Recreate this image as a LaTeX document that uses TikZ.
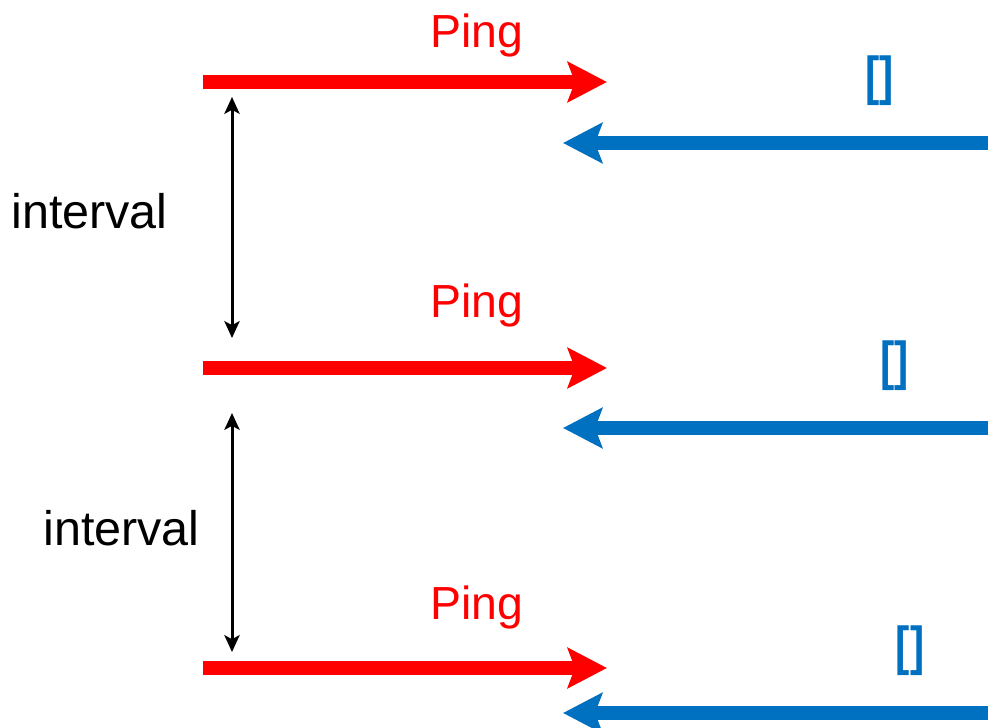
\documentclass[tikz,border=0pt]{standalone}
\usepackage{fontspec}
\setmainfont{Liberation Sans}
\usetikzlibrary{positioning, arrows.meta}
\definecolor{pingred}{HTML}{FF0000}
\definecolor{replyblue}{HTML}{0070C0}
\tikzset{
  ping/.style={draw=pingred, line width=0.35cm, -{Stealth[length=0.98cm, width=1cm, inset=0.18cm]}},
  reply/.style={draw=replyblue, line width=0.35cm, -{Stealth[length=0.98cm, width=1cm, inset=0.18cm]}},
  intarrow/.style={draw=black, line width=0.075cm, {Stealth[length=0.42cm, width=0.38cm, inset=0.1cm]}-{Stealth[length=0.42cm, width=0.38cm, inset=0.1cm]}},
  lbl/.style={inner sep=0pt, anchor=base, font=\fontsize{33}{40}\selectfont},
  ans/.style={inner sep=0pt, text=replyblue, font=\fontsize{38}{44}\selectfont\bfseries},
}
\begin{document}
\begin{tikzpicture} [x=0.025cm, y=-0.025cm]
  \useasboundingbox (0,0) rectangle (988,728);

  % ping requests
  \coordinate (p1s) at (203,82);  \coordinate (p1e) at (607,82);
  \coordinate (p2s) at (203,368); \coordinate (p2e) at (607,368);
  \coordinate (p3s) at (203,668); \coordinate (p3e) at (607,668);
  \draw[ping] (p1s) -- (p1e); \node[lbl, text=pingred] (ping1) at (477,48) {Ping};
  \draw[ping] (p2s) -- (p2e); \node[lbl, text=pingred] (ping2) at (477,318) {Ping};
  \draw[ping] (p3s) -- (p3e); \node[lbl, text=pingred] (ping3) at (477,619) {Ping};

  % empty replies
  \coordinate (r1s) at (988,143); \coordinate (r1e) at (563,143);
  \coordinate (r2s) at (988,428); \coordinate (r2e) at (563,428);
  \coordinate (r3s) at (988,713); \coordinate (r3e) at (563,713);
  \draw[reply] (r1s) -- (r1e); \node[ans] (ans1) at (879.5,81) {\scalebox{0.8}[1]{[]}};
  \draw[reply] (r2s) -- (r2e); \node[ans] (ans2) at (894.5,366) {\scalebox{0.8}[1]{[]}};
  \draw[reply] (r3s) -- (r3e); \node[ans] (ans3) at (910,651) {\scalebox{0.8}[1]{[]}};

  % intervals
  \coordinate (i1t) at (232,97);  \coordinate (i1b) at (232,338);
  \coordinate (i2t) at (232,413); \coordinate (i2b) at (232,652);
  \draw[intarrow] (i1t) -- (i1b); \node[lbl, anchor=base west, font=\fontsize{34.5}{40}\selectfont] (int1) at (11,229) {interval};
  \draw[intarrow] (i2t) -- (i2b); \node[lbl, anchor=base west, font=\fontsize{34.5}{40}\selectfont] (int2) at (43,545) {interval};
\end{tikzpicture}
\end{document}
